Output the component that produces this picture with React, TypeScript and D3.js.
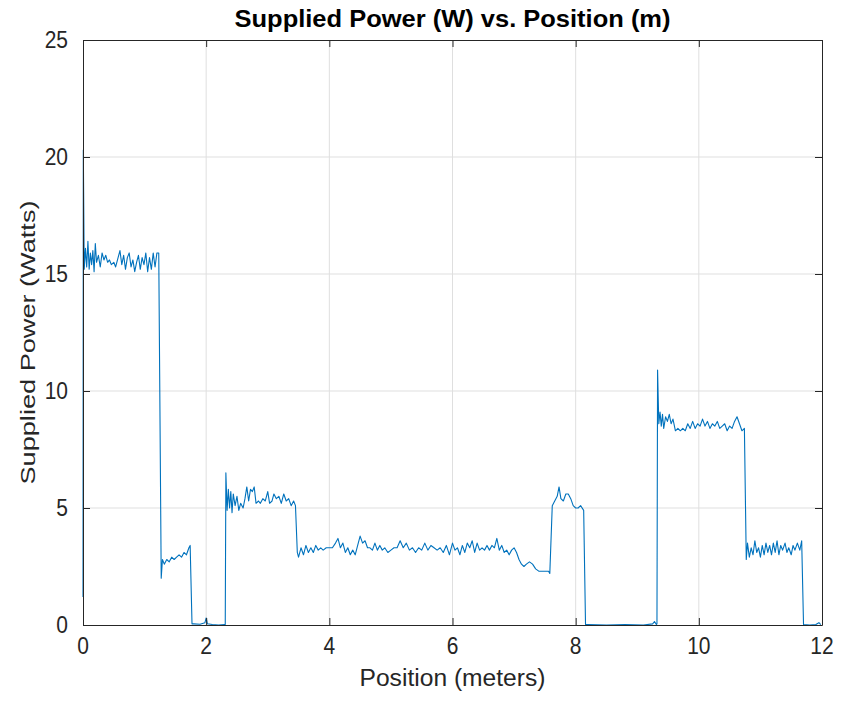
import React, { useEffect, useRef } from "react";
import * as d3 from "d3";

// position (m) / supplied power (W), one array per run section
const startRun: [number, number][] = [
  [0, 1.2], [0.005, 20.3], [0.02, 15.2], [0.04, 16.1], [0.06, 15.3], [0.08, 16.4],
  [0.1, 15.2], [0.12, 15.9], [0.14, 15.4], [0.16, 16.0], [0.18, 15.1], [0.2, 16.3],
  [0.22, 15.5], [0.25, 15.8], [0.28, 15.3], [0.31, 15.9], [0.34, 15.6], [0.37, 15.8],
  [0.4, 15.5], [0.43, 15.6], [0.46, 15.4], [0.5, 15.5], [0.53, 15.3], [0.56, 15.6],
  [0.6, 16.0], [0.63, 15.4], [0.66, 15.8], [0.69, 15.2], [0.72, 15.7], [0.75, 15.9],
  [0.78, 15.3], [0.81, 15.6], [0.84, 15.1], [0.87, 15.5], [0.9, 15.8], [0.93, 15.2],
  [0.96, 15.7], [0.99, 15.4], [1.02, 15.9], [1.05, 15.1], [1.08, 15.7], [1.11, 15.2],
  [1.14, 15.9], [1.17, 15.3], [1.2, 15.9], [1.23, 15.9],
];

const lowRun1: [number, number][] = [
  [1.27, 2.0], [1.29, 2.8], [1.32, 2.6], [1.36, 2.8], [1.4, 2.7], [1.44, 2.9],
  [1.48, 2.8], [1.52, 2.9], [1.56, 3.0], [1.6, 2.9], [1.64, 3.1], [1.68, 3.0],
  [1.72, 3.3], [1.74, 3.4], [1.77, 0.05], [1.8, 0.05], [1.9, 0.03], [1.98, 0.1],
  [2.0, 0.3], [2.02, 0.05], [2.1, 0.02], [2.2, 0.0], [2.3, 0.02],
];

const midRun: [number, number][] = [
  [2.31, 0.02], [2.32, 6.5], [2.34, 4.9], [2.36, 5.8], [2.38, 5.0], [2.4, 5.7],
  [2.42, 4.8], [2.44, 5.6], [2.47, 5.1], [2.5, 5.5], [2.53, 4.9], [2.56, 5.2],
  [2.6, 5.0], [2.63, 5.4], [2.66, 5.9], [2.69, 5.3], [2.72, 5.8], [2.75, 5.7],
  [2.78, 5.9], [2.81, 5.2], [2.85, 5.3], [2.88, 5.2], [2.92, 5.4], [2.96, 5.3],
  [3.0, 5.7], [3.03, 5.2], [3.07, 5.3], [3.1, 5.6], [3.14, 5.4], [3.18, 5.5],
  [3.22, 5.2], [3.26, 5.6], [3.3, 5.3], [3.34, 5.4], [3.38, 5.1], [3.42, 5.3],
  [3.45, 5.1],
];

const cruiseRun: [number, number][] = [
  [3.48, 3.1], [3.5, 2.9], [3.54, 3.3], [3.58, 3.0], [3.62, 3.4], [3.66, 3.1],
  [3.7, 3.3], [3.74, 3.1], [3.78, 3.4], [3.82, 3.2], [3.86, 3.3], [3.9, 3.2],
  [3.95, 3.3], [4.0, 3.3], [4.05, 3.3], [4.1, 3.5], [4.14, 3.7], [4.18, 3.3],
  [4.22, 3.5], [4.26, 3.1], [4.3, 3.3], [4.34, 3.0], [4.38, 3.2], [4.42, 3.0],
  [4.46, 3.4], [4.5, 3.8], [4.54, 3.5], [4.58, 3.6], [4.62, 3.3], [4.66, 3.3],
  [4.7, 3.2], [4.74, 3.5], [4.78, 3.2], [4.82, 3.4], [4.86, 3.2], [4.9, 3.3],
  [4.95, 3.1], [5.0, 3.2], [5.05, 3.3], [5.1, 3.3], [5.15, 3.6], [5.2, 3.3],
  [5.25, 3.5], [5.3, 3.2], [5.35, 3.3], [5.4, 3.1], [5.45, 3.3], [5.5, 3.2],
  [5.55, 3.5], [5.6, 3.2], [5.65, 3.4], [5.7, 3.3], [5.75, 3.2], [5.8, 3.3],
  [5.85, 3.1], [5.9, 3.4], [5.95, 3.0], [6.0, 3.5], [6.04, 3.2], [6.08, 3.3],
  [6.12, 3.0], [6.16, 3.4], [6.2, 3.1], [6.24, 3.5], [6.28, 3.3], [6.32, 3.6],
  [6.36, 3.1], [6.4, 3.5], [6.44, 3.2], [6.48, 3.3], [6.52, 3.2], [6.56, 3.4],
  [6.6, 3.2], [6.64, 3.4], [6.68, 3.3], [6.72, 3.7], [6.76, 3.2], [6.8, 3.4],
  [6.84, 3.1], [6.88, 3.2], [6.92, 3.0], [6.96, 3.2], [7.0, 3.3], [7.04, 3.1],
  [7.08, 2.8], [7.12, 2.6], [7.16, 2.5], [7.2, 2.6], [7.25, 2.7], [7.3, 2.6],
  [7.35, 2.4], [7.4, 2.3], [7.45, 2.3], [7.5, 2.3], [7.56, 2.3], [7.58, 2.2],
];

const bumpRun: [number, number][] = [
  [7.62, 5.1], [7.66, 5.3], [7.7, 5.5], [7.73, 5.9], [7.76, 5.4], [7.8, 5.3],
  [7.84, 5.6], [7.88, 5.6], [7.92, 5.4], [7.96, 5.1], [8.0, 5.0], [8.04, 5.0],
  [8.08, 5.1], [8.13, 4.9], [8.16, 0.02], [8.2, 0.02], [8.5, 0.0], [8.8, 0.02],
  [9.1, 0.0], [9.25, 0.05], [9.28, 0.15], [9.31, 0.02],
];

const highRun: [number, number][] = [
  [9.32, 0.05], [9.33, 10.9], [9.35, 8.6], [9.37, 9.1], [9.39, 8.5], [9.41, 9.0],
  [9.43, 8.4], [9.46, 8.9], [9.49, 8.7], [9.52, 9.0], [9.55, 8.6], [9.58, 8.8],
  [9.62, 8.3], [9.66, 8.4], [9.7, 8.3], [9.74, 8.4], [9.78, 8.3], [9.82, 8.6],
  [9.86, 8.4], [9.9, 8.7], [9.94, 8.4], [9.98, 8.6], [10.02, 8.5], [10.06, 8.8],
  [10.1, 8.5], [10.14, 8.7], [10.18, 8.4], [10.22, 8.6], [10.26, 8.5], [10.3, 8.7],
  [10.34, 8.4], [10.38, 8.5], [10.42, 8.6], [10.46, 8.3], [10.5, 8.5], [10.54, 8.4],
  [10.58, 8.7], [10.62, 8.9], [10.66, 8.6], [10.7, 8.3], [10.74, 8.4],
];

const endRun: [number, number][] = [
  [10.77, 2.8], [10.79, 3.5], [10.82, 2.9], [10.85, 3.3], [10.88, 3.0], [10.91, 3.6],
  [10.94, 3.1], [10.97, 3.3], [11.0, 2.9], [11.03, 3.4], [11.06, 3.0], [11.09, 3.5],
  [11.12, 3.1], [11.15, 3.4], [11.18, 3.0], [11.21, 3.5], [11.24, 3.1], [11.27, 3.6],
  [11.3, 3.0], [11.33, 3.4], [11.36, 3.2], [11.4, 3.5], [11.43, 3.1], [11.46, 3.3],
  [11.5, 3.0], [11.53, 3.4], [11.56, 3.2], [11.6, 3.5], [11.64, 3.2], [11.67, 3.6],
  [11.7, 0.02], [11.8, 0.0], [11.9, 0.02], [11.95, 0.1], [11.98, 0.02],
];

const xTicks = [0, 2, 4, 6, 8, 10, 12];
const yTicks = [0, 5, 10, 15, 20, 25];

const PowerChart = () => {
  const ref = useRef<SVGSVGElement>(null);

  useEffect(() => {
    const width = 843;
    const height = 701;
    const margin = { top: 40, right: 21, bottom: 76, left: 83 };
    const font = "'Liberation Sans', Arial, sans-serif";
    const axisColor = "#262626";
    const stretch = 1.1; // the picture is a bit taller than the usual figure

    const points = [
      ...startRun, ...lowRun1, ...midRun, ...cruiseRun,
      ...bumpRun, ...highRun, ...endRun,
    ];

    const svg = d3.select(ref.current);
    svg.selectAll("*").remove();
    svg.attr("width", width).attr("height", height);

    svg.append("rect").attr("width", width).attr("height", height).attr("fill", "#fff");

    const x = d3.scaleLinear().domain([0, 12]).range([margin.left, width - margin.right]);
    const y = d3.scaleLinear().domain([0, 25]).range([height - margin.bottom, margin.top]);

    // grid
    svg.append("g")
      .selectAll("line")
      .data(xTicks.slice(1, -1))
      .join("line")
      .attr("x1", (d) => x(d)).attr("x2", (d) => x(d))
      .attr("y1", y(0)).attr("y2", y(25))
      .attr("stroke", "#dfdfdf");
    svg.append("g")
      .selectAll("line")
      .data(yTicks.slice(1, -1))
      .join("line")
      .attr("y1", (d) => y(d)).attr("y2", (d) => y(d))
      .attr("x1", x(0)).attr("x2", x(12))
      .attr("stroke", "#dfdfdf");

    // data line
    svg.append("path")
      .datum(points)
      .attr("fill", "none")
      .attr("stroke", "#0072BD")
      .attr("stroke-width", 1.1)
      .attr("stroke-linejoin", "round")
      .attr("d", d3.line<[number, number]>().x((d) => x(d[0])).y((d) => y(d[1])));

    // axes with inward ticks on all sides
    const tickSize = -7;
    const bottom = svg.append("g")
      .attr("transform", `translate(0,${y(0)})`)
      .call(d3.axisBottom(x).tickValues(xTicks).tickSize(tickSize).tickSizeOuter(0).tickFormat(() => ""));
    const left = svg.append("g")
      .attr("transform", `translate(${x(0)},0)`)
      .call(d3.axisLeft(y).tickValues(yTicks).tickSize(tickSize).tickSizeOuter(0).tickFormat(() => ""));
    const top = svg.append("g")
      .attr("transform", `translate(0,${y(25)})`)
      .call(d3.axisTop(x).tickValues(xTicks).tickSize(tickSize).tickSizeOuter(0).tickFormat(() => ""));
    const right = svg.append("g")
      .attr("transform", `translate(${x(12)},0)`)
      .call(d3.axisRight(y).tickValues(yTicks).tickSize(tickSize).tickSizeOuter(0).tickFormat(() => ""));

    [bottom, left, top, right].forEach((g) => {
      g.select(".domain").attr("stroke", axisColor).attr("stroke-width", 1);
      g.selectAll(".tick line").attr("stroke", axisColor);
    });

    // tick labels drawn by hand so they can carry the vertical stretch
    svg.append("g")
      .selectAll("text")
      .data(xTicks)
      .join("text")
      .attr("transform", (d) => `translate(${x(d)},${y(0) + 21}) scale(1,${stretch})`)
      .attr("text-anchor", "middle")
      .attr("dy", "0.35em")
      .attr("fill", axisColor)
      .style("font-family", font)
      .style("font-size", "21px")
      .text((d) => d);
    svg.append("g")
      .selectAll("text")
      .data(yTicks)
      .join("text")
      .attr("transform", (d) => `translate(${x(0) - 15},${y(d)}) scale(1,${stretch})`)
      .attr("text-anchor", "end")
      .attr("dy", "0.35em")
      .attr("fill", axisColor)
      .style("font-family", font)
      .style("font-size", "21px")
      .text((d) => d);

    svg.append("text")
      .attr("transform", `translate(${(x(0) + x(12)) / 2},27) scale(1,${stretch})`)
      .attr("text-anchor", "middle")
      .style("font-family", font)
      .style("font-weight", "bold")
      .style("font-size", "21px")
      .attr("textLength", 436)
      .attr("lengthAdjust", "spacingAndGlyphs")
      .attr("fill", "#000")
      .text("Supplied Power (W) vs. Position (m)");

    svg.append("text")
      .attr("transform", `translate(${(x(0) + x(12)) / 2},686) scale(1,${stretch})`)
      .attr("text-anchor", "middle")
      .style("font-family", font)
      .style("font-size", "21px")
      .attr("textLength", 186)
      .attr("lengthAdjust", "spacingAndGlyphs")
      .attr("fill", axisColor)
      .text("Position (meters)");

    svg.append("text")
      .attr("transform", `translate(35,${(y(0) + y(25)) / 2 + 10}) rotate(-90)`)
      .attr("text-anchor", "middle")
      .style("font-family", font)
      .style("font-size", "21px")
      .attr("textLength", 284)
      .attr("lengthAdjust", "spacingAndGlyphs")
      .attr("fill", axisColor)
      .text("Supplied Power (Watts)");
  }, []);

  return <svg ref={ref} style={{ position: "absolute", left: 0, top: 0 }}></svg>;
};

export default function App() {
  return <PowerChart />;
}
